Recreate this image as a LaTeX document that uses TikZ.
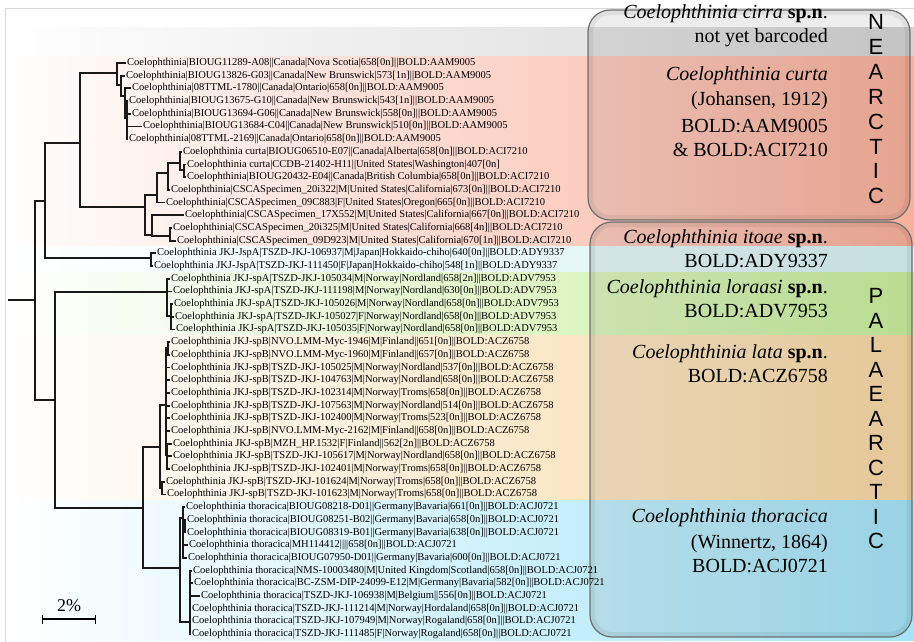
\documentclass[tikz,border=0pt]{standalone}
\usepackage{fontspec}
\setmainfont{Liberation Serif}
\newfontfamily\realmfont{Liberation Sans}
\usetikzlibrary{arrows.meta}

\definecolor{bandgray}{HTML}{D4D4D4}
\definecolor{bandred}{HTML}{F8B09B}
\definecolor{bandcyan}{HTML}{D6F2F2}
\definecolor{bandgreen}{HTML}{C8EE9C}
\definecolor{bandorange}{HTML}{F8D8A4}
\definecolor{bandblue}{HTML}{A4E4F8}

\tikzset{
  branch/.style={line width=1.8pt, black!90},
  taxon/.style={anchor=west, inner sep=1pt, text height=7pt, text depth=2pt,
    font=\fontsize{10.5}{12}\selectfont},
  spname/.style={anchor=base east, inner sep=0pt, font=\fontsize{20}{24}\selectfont},
  realmletter/.style={inner sep=0pt, font=\realmfont\fontsize{22}{24}\selectfont},
  realmbox/.style={rounded corners=22pt, draw=black!55, line width=1.2pt,
    fill=black, fill opacity=0.07},
}

\begin{document}
\begin{tikzpicture}[x=1pt,y=-1pt]
  \useasboundingbox (0,0) rectangle (914,642);
  % coloured bands behind the tree
  \shade[left color=white, right color=bandgray] (5,28) rectangle (914,57);
  \shade[left color=white, right color=bandred] (5,57) rectangle (914,246);
  \shade[left color=white, right color=bandcyan] (5,246) rectangle (914,272);
  \shade[left color=white, right color=bandgreen] (5,272) rectangle (914,335);
  \shade[left color=white, right color=bandorange] (5,335) rectangle (914,500);
  \shade[left color=white, right color=bandblue] (5,500) rectangle (914,640);
  \draw[black!15] (5,642) -- (5,8) -- (914,8);

  % realm boxes
  \draw[realmbox] (588,10) rectangle (910,220);
  \draw[realmbox] (590,222) rectangle (912,637);
  \begin{scope}
    \clip[rounded corners=22pt] (588,10) rectangle (910,220);
    \draw[rounded corners=22pt, line width=10pt, black, opacity=0.06] (588,10) rectangle (910,220);
  \end{scope}
  \begin{scope}
    \clip[rounded corners=22pt] (590,222) rectangle (912,637);
    \draw[rounded corners=22pt, line width=10pt, black, opacity=0.06] (590,222) rectangle (912,637);
  \end{scope}

  % leaves
  \foreach \t/\lab [count=\i] in {
    126/Coelophthinia|BIOUG11289-A08||Canada|Nova Scotia|658[0n]||BOLD:AAM9005,
    125/Coelophthinia|BIOUG13826-G03||Canada|New Brunswick|573[1n]||BOLD:AAM9005,
    131/Coelophthinia|08TTML-1780||Canada|Ontario|658[0n]||BOLD:AAM9005,
    128/Coelophthinia|BIOUG13675-G10||Canada|New Brunswick|543[1n]||BOLD:AAM9005,
    131/Coelophthinia|BIOUG13694-G06||Canada|New Brunswick|558[0n]||BOLD:AAM9005,
    142/Coelophthinia|BIOUG13684-C04||Canada|New Brunswick|510[0n]||BOLD:AAM9005,
    128/Coelophthinia|08TTML-2169||Canada|Ontario|658[0n]||BOLD:AAM9005,
    182/Coelophthinia curta|BIOUG06510-E07||Canada|Alberta|658[0n]||BOLD:ACI7210,
    186/Coelophthinia curta|CCDB-21402-H11||United States|Washington|407[0n],
    186/Coelophthinia|BIOUG20432-E04||Canada|British Columbia|658[0n]||BOLD:ACI7210,
    170/Coelophthinia|CSCASpecimen\_20i322|M|United States|California|673[0n]||BOLD:ACI7210,
    165/Coelophthinia|CSCASpecimen\_09C883|F|United States|Oregon|665[0n]||BOLD:ACI7210,
    184/Coelophthinia|CSCASpecimen\_17X552|M|United States|California|667[0n]||BOLD:ACI7210,
    172/Coelophthinia|CSCASpecimen\_20i325|M|United States|California|668[4n]||BOLD:ACI7210,
    176/Coelophthinia|CSCASpecimen\_09D923|M|United States|California|670[1n]||BOLD:ACI7210,
    156/Coelophthinia JKJ-JspA|TSZD-JKJ-106937|M|Japan|Hokkaido-chiho|640[0n]||BOLD:ADY9337,
    153/Coelophthinia JKJ-JspA|TSZD-JKJ-111450|F|Japan|Hokkaido-chiho|548[1n]||BOLD:ADY9337,
    170/Coelophthinia JKJ-spA|TSZD-JKJ-105034|M|Norway|Nordland|658[2n]||BOLD:ADV7953,
    172/Coelophthinia JKJ-spA|TSZD-JKJ-111198|M|Norway|Nordland|630[0n]||BOLD:ADV7953,
    173/Coelophthinia JKJ-spA|TSZD-JKJ-105026|M|Norway|Nordland|658[0n]||BOLD:ADV7953,
    174/Coelophthinia JKJ-spA|TSZD-JKJ-105027|F|Norway|Nordland|658[0n]||BOLD:ADV7953,
    175/Coelophthinia JKJ-spA|TSZD-JKJ-105035|F|Norway|Nordland|658[0n]||BOLD:ADV7953,
    170/Coelophthinia JKJ-spB|NVO.LMM-Myc-1946|M|Finland||651[0n]||BOLD:ACZ6758,
    170/Coelophthinia JKJ-spB|NVO.LMM-Myc-1960|M|Finland||657[0n]||BOLD:ACZ6758,
    170/Coelophthinia JKJ-spB|TSZD-JKJ-105025|M|Norway|Nordland|537[0n]||BOLD:ACZ6758,
    170/Coelophthinia JKJ-spB|TSZD-JKJ-104763|M|Norway|Nordland|658[0n]||BOLD:ACZ6758,
    170/Coelophthinia JKJ-spB|TSZD-JKJ-102314|M|Norway|Troms|658[0n]||BOLD:ACZ6758,
    170/Coelophthinia JKJ-spB|TSZD-JKJ-107563|M|Norway|Nordland|514[0n]||BOLD:ACZ6758,
    170/Coelophthinia JKJ-spB|TSZD-JKJ-102400|M|Norway|Troms|523[0n]||BOLD:ACZ6758,
    170/Coelophthinia JKJ-spB|NVO.LMM-Myc-2162|M|Finland||658[0n]||BOLD:ACZ6758,
    172/Coelophthinia JKJ-spB|MZH\_HP.1532|F|Finland||562[2n]||BOLD:ACZ6758,
    172/Coelophthinia JKJ-spB|TSZD-JKJ-105617|M|Norway|Nordland|658[0n]||BOLD:ACZ6758,
    170/Coelophthinia JKJ-spB|TSZD-JKJ-102401|M|Norway|Troms|658[0n]||BOLD:ACZ6758,
    165/Coelophthinia JKJ-spB|TSZD-JKJ-101624|M|Norway|Troms|658[0n]||BOLD:ACZ6758,
    166/Coelophthinia JKJ-spB|TSZD-JKJ-101623|M|Norway|Troms|658[0n]||BOLD:ACZ6758,
    185/Coelophthinia thoracica|BIOUG08218-D01||Germany|Bavaria|661[0n]||BOLD:ACJ0721,
    186/Coelophthinia thoracica|BIOUG08251-B02||Germany|Bavaria|658[0n]||BOLD:ACJ0721,
    186/Coelophthinia thoracica|BIOUG08319-B01||Germany|Bavaria|638[0n]||BOLD:ACJ0721,
    188/Coelophthinia thoracica|MH114412||||658[0n]||BOLD:ACJ0721,
    187/Coelophthinia thoracica|BIOUG07950-D01||Germany|Bavaria|600[0n]||BOLD:ACJ0721,
    192/Coelophthinia thoracica|NMS-10003480|M|United Kingdom|Scotland|658[0n]||BOLD:ACJ0721,
    193/Coelophthinia thoracica|BC-ZSM-DIP-24099-E12|M|Germany|Bavaria|582[0n]||BOLD:ACJ0721,
    200/Coelophthinia thoracica|TSZD-JKJ-106938|M|Belgium||556[0n]||BOLD:ACJ0721,
    191/Coelophthinia thoracica|TSZD-JKJ-111214|M|Norway|Hordaland|658[0n]||BOLD:ACJ0721,
    191/Coelophthinia thoracica|TSZD-JKJ-107949|M|Norway|Rogaland|658[0n]||BOLD:ACJ0721,
    191/Coelophthinia thoracica|TSZD-JKJ-111485|F|Norway|Rogaland|658[0n]||BOLD:ACJ0721}
    \node[taxon] (l\i) at (\t,{63+(\i-1)*12.69}) {\lab};

  % internal nodes
  \coordinate (base) at (8,300);
  \coordinate (R) at (35,300);
  \coordinate (N0) at (45,201);
  \coordinate (Nc) at (80,143);
  \coordinate (A1) at (117,73);
  \coordinate (A1b) at (121,85);
  \coordinate (A2) at (125,96);
  \coordinate (A3) at (127,118);
  \coordinate (C1) at (145,207);
  \coordinate (C2) at (157,195);
  \coordinate (C3) at (168,173);
  \coordinate (C4) at (180,163);
  \coordinate (C4b) at (184,170);
  \coordinate (C5) at (152,235);
  \coordinate (C6) at (170,236);
  \coordinate (J) at (151,258);
  \coordinate (P0) at (55,400);
  \coordinate (S) at (167,292);
  \coordinate (S2) at (171,316);
  \coordinate (Q) at (143,508);
  \coordinate (B0) at (160,447);
  \coordinate (B1) at (166,405);
  \coordinate (B1a) at (168,348);
  \coordinate (B1b) at (167,455);
  \coordinate (B2) at (162,488);
  \coordinate (T0) at (180,568);
  \coordinate (T1) at (183,518);
  \coordinate (T1b) at (185,526);
  \coordinate (T2) at (190,622);

  % branches
  \draw[branch] (base) -- (R);
  \draw[branch] (R) |- (N0) (R) |- (P0);
  \draw[branch] (N0) |- (Nc) (N0) |- (J);
  \draw[branch] (Nc) |- (A1) (Nc) |- (C1);
  \draw[branch] (A1) |- (l1.west) (A1) |- (A1b);
  \draw[branch] (A1b) |- (l2.west) (A1b) |- (A2);
  \draw[branch] (A2) |- (l3.west) (A2) |- (A3);
  \foreach \k in {4,...,7} \draw[branch] (A3) |- (l\k.west);
  \draw[branch] (C1) |- (C2) (C1) |- (C5);
  \draw[branch] (C2) |- (C3) (C2) |- (l12.west);
  \draw[branch] (C3) |- (C4) (C3) |- (l11.west);
  \draw[branch] (C4) |- (l8.west) (C4) |- (C4b);
  \draw[branch] (C4b) |- (l9.west) (C4b) |- (l10.west);
  \draw[branch] (C5) |- (l13.west) (C5) |- (C6);
  \draw[branch] (C6) |- (l14.west) (C6) |- (l15.west);
  \draw[branch] (J) |- (l16.west) (J) |- (l17.west);
  \draw[branch] (P0) |- (S) (P0) |- (Q);
  \draw[branch] (S) |- (l18.west) (S) |- (l19.west) (S) |- (S2);
  \foreach \k in {20,21,22} \draw[branch] (S2) |- (l\k.west);
  \draw[branch] (Q) |- (B0) (Q) |- (T0);
  \draw[branch] (B0) |- (B1) (B0) |- (B2);
  \draw[branch] (B1) |- (B1a) (B1) |- (B1b);
  \draw[branch] (B1a) |- (l23.west) (B1a) |- (l24.west);
  \foreach \k in {25,...,30} \draw[branch] (B1) |- (l\k.west);
  \foreach \k in {31,32,33} \draw[branch] (B1b) |- (l\k.west);
  \draw[branch] (B2) |- (l34.west) (B2) |- (l35.west);
  \draw[branch] (T0) |- (T1) (T0) |- (T2);
  \draw[branch] (T1) |- (l36.west) (T1) |- (T1b) (T1) |- (l39.west) (T1) |- (l40.west);
  \draw[branch] (T1b) |- (l37.west) (T1b) |- (l38.west);
  \foreach \k in {41,...,46} \draw[branch] (T2) |- (l\k.west);

  % scale bar
  \coordinate (sb1) at (42,619);
  \coordinate (sb2) at (96,619);
  \draw[line width=1.3pt, {Bar[width=9pt]}-{Bar[width=9pt]}] (sb1) -- (sb2);
  \node[font=\fontsize{18}{20}\selectfont] (sblabel) at (69,606) {2\%};

  % species names
  \node[spname] (cirra) at (828,19) {\textit{Coelophthinia cirra} \textbf{sp.n}.};
  \node[spname] (cirrab) at (828,43) {not yet barcoded};
  \node[spname] (curta) at (828,81) {\textit{Coelophthinia curta}};
  \node[spname] (curtaa) at (828,106) {(Johansen, 1912)};
  \node[spname] (curtab) at (828,132) {BOLD:AAM9005};
  \node[spname] (curtac) at (828,157) {\& BOLD:ACI7210};
  \node[spname] (itoae) at (828,243) {\textit{Coelophthinia itoae} \textbf{sp.n}.};
  \node[spname] (itoaeb) at (828,267) {BOLD:ADY9337};
  \node[spname] (loraasi) at (828,293) {\textit{Coelophthinia loraasi} \textbf{sp.n}.};
  \node[spname] (loraasib) at (828,317) {BOLD:ADV7953};
  \node[spname] (lata) at (828,358) {\textit{Coelophthinia lata} \textbf{sp.n}.};
  \node[spname] (latab) at (828,382) {BOLD:ACZ6758};
  \node[spname] (thor) at (828,522) {\textit{Coelophthinia thoracica}};
  \node[spname] (thora) at (828,548) {(Winnertz, 1864)};
  \node[spname] (thorb) at (828,572) {BOLD:ACJ0721};

  % realm names
  \foreach \c [count=\i] in {N,E,A,R,C,T,I,C}
    \node[realmletter] (ne\i) at (876,{22+(\i-1)*24.9}) {\c};
  \foreach \c [count=\i] in {P,A,L,A,E,A,R,C,T,I,C}
    \node[realmletter] (pa\i) at (876,{296+(\i-1)*24.5}) {\c};
\end{tikzpicture}
\end{document}
